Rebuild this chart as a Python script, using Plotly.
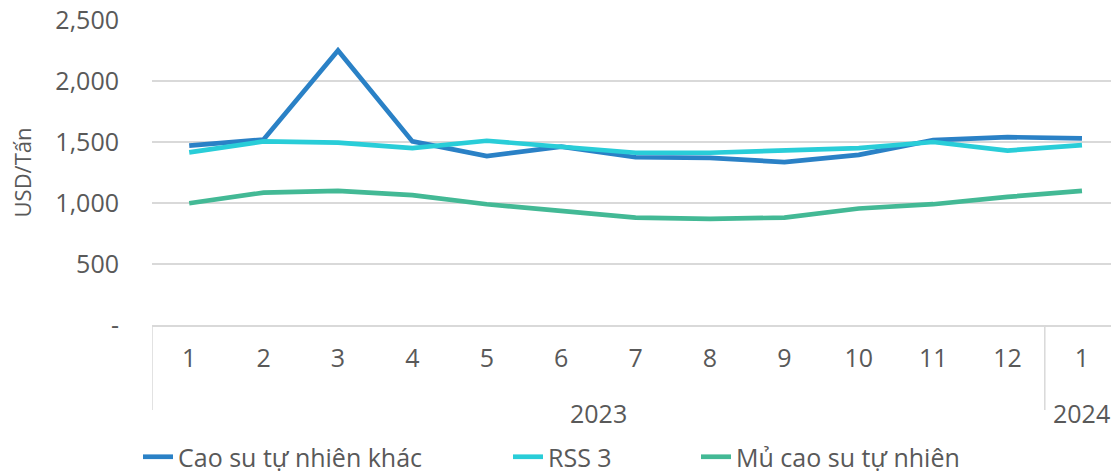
import plotly.graph_objects as go

years = ["2023", "2024"]
year_spans = [(0, 11), (12, 12)]
months = ["1", "2", "3", "4", "5", "6", "7", "8", "9", "10", "11", "12", "1"]
periods = [f"{m}/2023" for m in months[:12]] + ["1/2024"]

cao_su_khac = [1470, 1520, 2250, 1505, 1385, 1462, 1375, 1370, 1335, 1395, 1515, 1540, 1530]
rss3 = [1415, 1505, 1495, 1450, 1510, 1462, 1412, 1412, 1430, 1450, 1500, 1430, 1475]
mu_cao_su = [998, 1085, 1100, 1065, 990, 935, 880, 870, 880, 955, 990, 1050, 1100]

y_tickvals = [0, 500, 1000, 1500, 2000, 2500]
y_ticktext = ["-", "500", "1,000", "1,500", "2,000", "2,500"]

FONT = "Open Sans"
GREY = "#595959"
LINE_GREY = "#D9D9D9"

series = [
    ("Cao su tự nhiên khác", cao_su_khac, "#2A81C6", "legend"),
    ("RSS 3", rss3, "#29CDD8", "legend2"),
    ("Mủ cao su tự nhiên", mu_cao_su, "#43B995", "legend3"),
]

fig = go.Figure()
for name, vals, color, lg in series:
    fig.add_trace(go.Scatter(
        x=periods, y=vals, name=name, mode="lines",
        line=dict(color=color, width=4.7), legend=lg, showlegend=True,
    ))

H = 473
PLOT_BOTTOM = 325
PLOT_H = 305

def py(px):
    return -(px - PLOT_BOTTOM) / PLOT_H

# year labels under month labels
for yr, (a, b) in zip(years, year_spans):
    fig.add_annotation(x=(a + b) / 2, y=py(413), xref="x", yref="paper",
                       text=yr, showarrow=False, xanchor="center", yanchor="middle",
                       font=dict(family=FONT, size=25, color=GREY))

# group dividers
for a, b in year_spans[:1]:
    for xv in (a - 0.5, b + 0.5):
        fig.add_shape(type="line", xref="x", yref="paper", x0=xv, x1=xv,
                      y0=0, y1=py(410), line=dict(color=LINE_GREY, width=1.5))

leg_common = dict(orientation="h", yanchor="middle", xanchor="left",
                  xref="container", yref="container",
                  font=dict(family=FONT, size=25, color=GREY),
                  bgcolor="rgba(0,0,0,0)", borderwidth=0)
ly = (H - 457) / H

fig.update_layout(
    width=1111, height=H,
    showlegend=True,
    margin=dict(l=152, r=0, t=20, b=148, autoexpand=False),
    plot_bgcolor="white", paper_bgcolor="white",
    font=dict(family=FONT, color=GREY),
    legend=dict(x=138 / 1111, y=ly, **leg_common),
    legend2=dict(x=508 / 1111, y=ly, **leg_common),
    legend3=dict(x=696 / 1111, y=ly, **leg_common),
    xaxis=dict(
        type="category",
        range=[-0.5, 12.39],
        tickvals=periods, ticktext=months,
        showline=True, linecolor=LINE_GREY, linewidth=1.5,
        showgrid=False, ticks="", ticklabelstandoff=10,
        tickfont=dict(family=FONT, size=25, color=GREY),
    ),
    yaxis=dict(
        range=[0, 2500],
        tickvals=y_tickvals, ticktext=y_ticktext,
        showgrid=True, gridcolor=LINE_GREY, gridwidth=1.5,
        zeroline=False, showline=False, ticks="",
        ticklabelstandoff=32,
        tickfont=dict(family=FONT, size=25, color=GREY),
        title=dict(text="USD/Tấn", font=dict(family=FONT, size=22, color=GREY), standoff=17),
    ),
)

fig.write_html("out.html", config={"displayModeBar": False},
               post_script="document.body.style.margin='0';")
